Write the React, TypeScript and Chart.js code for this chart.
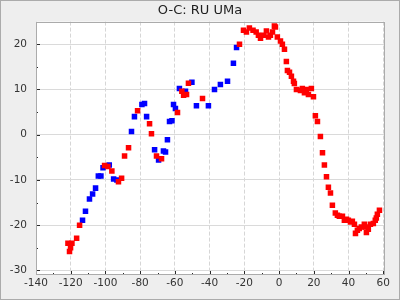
import { useEffect, useRef } from 'react';
import { Chart, registerables } from 'chart.js';

Chart.register(...registerables);

const chartTitle = 'O-C: RU UMa';

const xTicks = [-140, -130, -120, -110, -100, -90, -80, -70, -60, -50, -40, -30, -20, -10, 0, 10, 20, 30, 40, 50, 60];
const yTicks = [-30, -25, -20, -15, -10, -5, 0, 5, 10, 15, 20, 25];

const blueX = [-113.2, -111.5, -109.2, -107.4, -105.7, -104.1, -102.6, -101.4, -97.8, -95.3, -93.4, -85.0, -83.3, -79.0, -77.5, -76.3, -71.7, -69.4, -66.6, -65.4, -64.3, -63.1, -61.7, -60.8, -59.7, -57.4, -53.9, -50.2, -47.6, -40.7, -37.2, -33.8, -29.7, -26.3, -24.5];
const blueY = [-18.9, -16.9, -14.2, -13.1, -11.8, -9.1, -9.1, -7.3, -6.7, -9.8, -10.0, 0.7, 4.0, 6.7, 6.9, 4.0, -3.3, -5.6, -3.6, -3.8, -1.1, 2.9, 3.1, 6.7, 5.8, 10.2, 9.6, 11.6, 6.4, 6.4, 10.0, 11.1, 11.8, 15.8, 19.3];

const redX = [-121.6, -120.7, -120.1, -119.3, -116.6, -114.9, -100.5, -98.6, -96.3, -92.5, -90.7, -89.0, -86.7, -81.5, -74.6, -73.5, -70.6, -67.7, -58.5, -56.0, -55.0, -53.3, -52.2, -44.1, -22.8, -20.5, -18.8, -17.1, -15.0, -13.2, -11.9, -10.7, -9.0, -7.3, -6.1, -5.0, -3.8, -2.7, -2.1, -1.0, 0.8, 1.9, 3.1, 4.2, 4.8, 6.0, 7.1, 8.3, 8.8, 10.0, 12.3, 13.4, 14.6, 15.7, 16.9, 18.6, 19.8, 20.9, 22.1, 23.8, 25.0, 26.1, 27.3, 28.4, 29.6, 30.7, 32.4, 33.6, 34.7, 36.5, 37.6, 38.8, 39.9, 41.1, 42.2, 43.4, 44.0, 45.1, 46.2, 47.4, 49.1, 49.7, 50.3, 51.4, 52.6, 54.3, 55.4, 56.0, 56.6, 57.8];
const redY = [-24.0, -25.8, -25.0, -24.0, -22.9, -20.0, -6.8, -7.0, -8.0, -10.4, -9.6, -4.7, -2.9, 5.3, 2.4, 0.2, -4.7, -5.3, 4.9, 9.6, 8.7, 8.9, 11.4, 8.0, 20.0, 23.1, 22.7, 23.6, 23.1, 22.7, 22.0, 21.3, 22.0, 22.9, 21.6, 22.0, 22.7, 24.0, 23.8, 21.6, 20.7, 20.0, 18.9, 16.2, 14.2, 13.8, 12.9, 11.8, 11.3, 10.0, 9.8, 10.2, 9.3, 10.0, 8.9, 10.2, 8.4, 4.2, 2.9, -0.4, -4.0, -6.7, -9.3, -11.6, -12.9, -15.6, -17.3, -17.8, -18.0, -18.0, -18.9, -18.7, -18.9, -19.3, -19.1, -19.8, -21.8, -21.1, -20.7, -20.4, -19.8, -20.4, -21.6, -20.9, -19.8, -19.6, -18.9, -18.4, -17.6, -16.7];

const toPoints = (xs: number[], ys: number[]) => xs.map((x, i) => ({ x, y: ys[i] }));

const tickFont = { family: 'DejaVu Sans', size: 10.5 };

const framePlugin = {
  id: 'frame',
  beforeDraw(chart: any) {
    const { ctx, chartArea } = chart;
    ctx.save();
    ctx.fillStyle = '#ffffff';
    ctx.fillRect(chartArea.left, chartArea.top, chartArea.right - chartArea.left, chartArea.bottom - chartArea.top);
    ctx.restore();
  },
  afterDraw(chart: any) {
    const { ctx, chartArea } = chart;
    const xs = chart.scales.x;
    const ys = chart.scales.y;
    const left = Math.round(chartArea.left);
    const right = Math.round(chartArea.right);
    const top = Math.round(chartArea.top);
    const bottom = Math.round(chartArea.bottom);
    ctx.save();
    ctx.strokeStyle = '#2a2a2a';
    ctx.lineWidth = 1;
    ctx.beginPath();
    xTicks.forEach((v) => {
      const px = Math.round(xs.getPixelForValue(v)) + 0.5;
      const len = v % 20 === 0 ? 4 : 2;
      ctx.moveTo(px, bottom);
      ctx.lineTo(px, bottom - len);
    });
    yTicks.forEach((v) => {
      const py = Math.round(ys.getPixelForValue(v)) + 0.5;
      const len = v % 10 === 0 ? 4 : 2;
      ctx.moveTo(left, py);
      ctx.lineTo(left + len, py);
    });
    ctx.stroke();
    ctx.strokeStyle = '#ababab';
    ctx.strokeRect(left + 0.5, top + 0.5, right - left - 1, bottom - top - 1);
    ctx.restore();
  },
};

export default function App() {
  const canvasRef = useRef<HTMLCanvasElement | null>(null);

  useEffect(() => {
    document.body.style.margin = '0';
    const canvas = canvasRef.current;
    if (!canvas) return;
    const chart = new Chart(canvas, {
      type: 'scatter',
      data: {
        datasets: [
          {
            label: 'red',
            data: toPoints(redX, redY),
            backgroundColor: '#ff0000',
            borderWidth: 0,
            pointStyle: 'rect',
            pointRadius: 3.9,
          },
          {
            label: 'blue',
            data: toPoints(blueX, blueY),
            backgroundColor: '#0000ff',
            borderWidth: 0,
            pointStyle: 'rect',
            pointRadius: 3.9,
          },
        ],
      },
      options: {
        animation: false,
        responsive: false,
        maintainAspectRatio: false,
        layout: { padding: 0 },
        plugins: {
          legend: { display: false },
          tooltip: { enabled: false },
          title: {
            display: true,
            text: chartTitle,
            color: '#1e1e1e',
            font: { family: 'DejaVu Sans', size: 13, weight: 'normal' },
            padding: { top: 2, bottom: 3 },
          },
        },
        scales: {
          x: {
            type: 'linear',
            min: -140,
            max: 61,
            afterBuildTicks: (s: any) => {
              s.ticks = xTicks.map((v) => ({ value: v }));
            },
            afterFit: (s: any) => {
              s.height = 24;
            },
            grid: {
              drawTicks: false,
              color: (c: any) => (c.tick && c.tick.value % 20 === 0 ? '#d6d6d6' : 'transparent'),
              lineWidth: 1,
            },
            border: { display: false, dash: [4, 2] },
            ticks: {
              autoSkip: false,
              maxRotation: 0,
              padding: 2,
              font: tickFont,
              color: '#333333',
              callback: (v: any) => (Number(v) % 20 === 0 ? String(v) : ''),
            },
          },
          y: {
            type: 'linear',
            min: -31,
            max: 25,
            afterBuildTicks: (s: any) => {
              s.ticks = yTicks.map((v) => ({ value: v }));
            },
            afterFit: (s: any) => {
              s.width = 35;
            },
            grid: {
              drawTicks: false,
              color: (c: any) => (c.tick && c.tick.value % 10 === 0 ? '#dadada' : 'transparent'),
              lineWidth: 1,
            },
            border: { display: false },
            ticks: {
              autoSkip: false,
              padding: 9,
              font: tickFont,
              color: '#333333',
              callback: (v: any) => (Number(v) % 10 === 0 ? String(v) : ''),
            },
          },
          y2: {
            type: 'linear',
            position: 'right',
            display: true,
            grid: { display: false },
            border: { display: false },
            ticks: { display: false },
            afterFit: (s: any) => {
              s.width = 14;
            },
          },
        },
      },
      plugins: [framePlugin],
    } as any);
    return () => chart.destroy();
  }, []);

  return (
    <div
      style={{
        width: 400,
        height: 300,
        boxSizing: 'border-box',
        border: '1px solid #ababab',
        background: '#eeeeee',
      }}
    >
      <canvas ref={canvasRef} width={398} height={298} style={{ display: 'block', width: 398, height: 298 }} />
    </div>
  );
}
